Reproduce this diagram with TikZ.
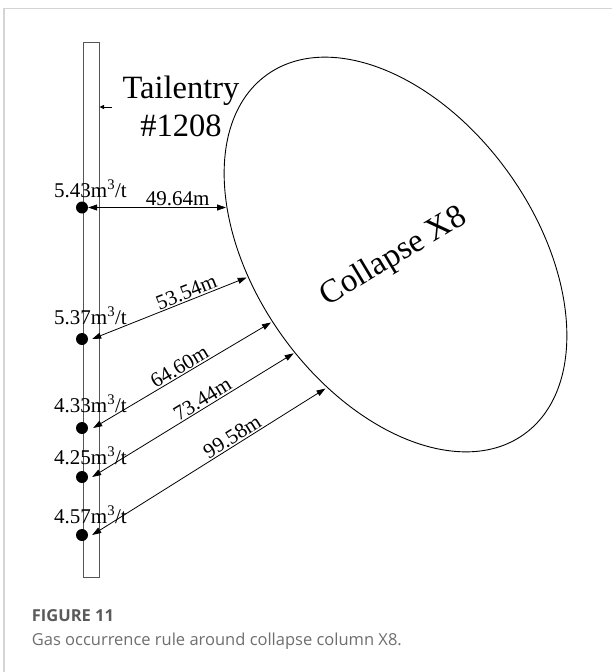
\documentclass[tikz,border=0pt]{standalone}
\usepackage{fontspec}
\setmainfont{Liberation Serif}
\newfontfamily\capfont{Open Sans}
\usetikzlibrary{arrows.meta,shapes.geometric}
\definecolor{framegray}{HTML}{D4D4D4}
\definecolor{railgray}{HTML}{555555}
\definecolor{capdark}{HTML}{5A5A5A}
\definecolor{caplight}{HTML}{6E6E6E}
\tikzset{
  dimarrow/.style={line width=0.8pt,{Triangle[length=9pt,width=6pt]}-{Triangle[length=9pt,width=6pt]}},
  dimlabel/.style={above,sloped,inner sep=1.2pt,font=\fontsize{21}{24}\selectfont},
  ratelabel/.style={anchor=base west,inner sep=0pt,font=\fontsize{21}{24}\selectfont},
  dotnode/.style={circle,fill=black,inner sep=0pt,minimum size=12pt},
  bigtext/.style={anchor=base,inner sep=0pt,font=\fontsize{32.5}{38}\selectfont},
}
\begin{document}
\begin{tikzpicture}[x=1pt,y=-1pt]
\useasboundingbox (0,0) rectangle (612,672);
% frame
\draw[framegray,line width=1.5pt] (4,672) -- (4,8.7) -- (612,8.7);
% rail (tailentry)
\node[draw=railgray,line width=1pt,minimum width=16pt,minimum height=535pt,inner sep=0pt] (rail) at (91,309.5) {};
% collapse ellipse
\node[draw,ellipse,line width=0.9pt,minimum width=442pt,minimum height=279pt,inner sep=0pt,rotate=-54.5] (x8) at (395.5,254.5) {};
\node[inner sep=0pt,rotate=31,font=\fontsize{33}{38}\selectfont] (x8lab) at (394,257) {Collapse X8};
% tailentry label
\node[bigtext] (tail1) at (181,98) {Tailentry};
\node[bigtext] (tail2) at (181,136) {\#1208};
\coordinate (ptr) at (112,107);
\draw[line width=0.8pt,-{Triangle[length=4.5pt,width=4pt]}] (ptr) -- (rail.east |- ptr);
% dots
\node[dotnode] (d1) at (82,207.5) {};
\node[dotnode] (d2) at (82,339) {};
\node[dotnode] (d3) at (82,428) {};
\node[dotnode] (d4) at (82,477) {};
\node[dotnode] (d5) at (82,535) {};
% rate labels
\node[ratelabel] (r1) at (54,197) {5.43m\textsuperscript{3}/t};
\node[ratelabel] (r2) at (54,324) {5.37m\textsuperscript{3}/t};
\node[ratelabel] (r3) at (54,412.5) {4.33m\textsuperscript{3}/t};
\node[ratelabel] (r4) at (54,464) {4.25m\textsuperscript{3}/t};
\node[ratelabel] (r5) at (54,523.5) {4.57m\textsuperscript{3}/t};
% ellipse boundary points
\coordinate (e1) at (226,207.5);
\coordinate (e2) at (246.7,277.5);
\coordinate (e3) at (271,322.5);
\coordinate (e4) at (293.7,353.3);
\coordinate (e5) at (325.5,388.5);
% distance arrows
\draw[dimarrow] (d1.east) -- (e1) node[dimlabel,pos=0.65] {49.64m};
\draw[dimarrow] ([xshift=4pt]d2.east) -- (e2) node[dimlabel,pos=0.63] {53.54m};
\draw[dimarrow] ([xshift=5pt]d3.east) -- (e3) node[dimlabel,pos=0.51] {64.60m};
\draw[dimarrow] ([xshift=4pt]d4.east) -- (e4) node[dimlabel,pos=0.57] {73.44m};
\draw[dimarrow] ([xshift=4pt]d5.east) -- (e5) node[dimlabel,pos=0.62] {99.58m};
% caption
\node[anchor=base west,inner sep=0pt,text=capdark,font=\capfont\bfseries\fontsize{16.5}{20}\selectfont] (cap1) at (31.7,621) {FIGURE 11};
\node[anchor=base west,inner sep=0pt,text=caplight,font=\capfont\fontsize{16.5}{20}\selectfont] (cap2) at (31.7,645) {Gas occurrence rule around collapse column X8.};
\end{tikzpicture}
\end{document}
